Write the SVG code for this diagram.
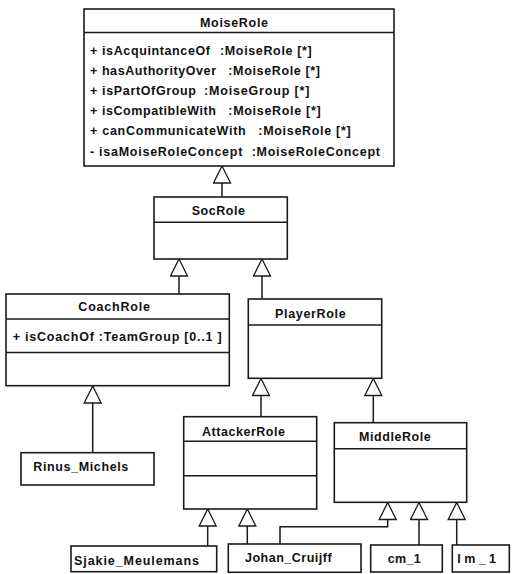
<svg xmlns="http://www.w3.org/2000/svg" width="512" height="574" viewBox="0 0 512 574">
<style>
.box{fill:#fff;stroke:#1a1a1a;stroke-width:1.6}
.sep{stroke:#1a1a1a;stroke-width:1.5}
.t{font-family:"Liberation Sans",Arial,sans-serif;font-weight:bold;font-size:12.5px;fill:#111}
.c{fill:none;stroke:#1a1a1a;stroke-width:1.5}
</style>
<defs>
<marker id="gen" markerUnits="userSpaceOnUse" viewBox="-1 -1 19 19" markerWidth="19" markerHeight="19" refX="17" refY="8.5" orient="auto">
<path d="M0,0 L17,8.5 L0,17 Z" fill="#fff" stroke="#1a1a1a" stroke-width="1.3"/>
</marker>
</defs>
<rect width="512" height="574" fill="#fff"/>
<g id="connectors">
<path class="c" d="M222,197 L222,166" marker-end="url(#gen)"/>
<path class="c" d="M179,294 L179,259" marker-end="url(#gen)"/>
<path class="c" d="M262,299 L262,259" marker-end="url(#gen)"/>
<path class="c" d="M92.7,453 L92.7,386" marker-end="url(#gen)"/>
<path class="c" d="M261,417 L261,378.5" marker-end="url(#gen)"/>
<path class="c" d="M373.3,423 L373.3,378.5" marker-end="url(#gen)"/>
<path class="c" d="M207.7,546 L207.7,509" marker-end="url(#gen)"/>
<path class="c" d="M247.3,544 L247.3,509" marker-end="url(#gen)"/>
<path class="c" d="M280,544 L280,526.7 L387.7,526.7 L387.7,502.5" marker-end="url(#gen)"/>
<path class="c" d="M419,545 L419,502.5" marker-end="url(#gen)"/>
<path class="c" d="M456.7,545 L456.7,502.5" marker-end="url(#gen)"/>
</g>
<g id="MoiseRole">
<rect class="box" x="84" y="9" width="310" height="157"/>
<line class="sep" x1="84" y1="32.5" x2="394" y2="32.5"/>
<text class="t" x="200" y="26.5" textLength="68" lengthAdjust="spacing">MoiseRole</text>
<text class="t" x="90" y="55" textLength="120" lengthAdjust="spacing">+ isAcquintanceOf</text>
<text class="t" x="220" y="55" textLength="91.7" lengthAdjust="spacing">:MoiseRole [*]</text>
<text class="t" x="90" y="75" textLength="126" lengthAdjust="spacing">+ hasAuthorityOver</text>
<text class="t" x="228.3" y="75" textLength="91.7" lengthAdjust="spacing">:MoiseRole [*]</text>
<text class="t" x="90" y="95" textLength="106" lengthAdjust="spacing">+ isPartOfGroup</text>
<text class="t" x="204" y="95" textLength="105.3" lengthAdjust="spacing">:MoiseGroup [*]</text>
<text class="t" x="90" y="115" textLength="126" lengthAdjust="spacing">+ isCompatibleWith</text>
<text class="t" x="228.3" y="115" textLength="92.4" lengthAdjust="spacing">:MoiseRole [*]</text>
<text class="t" x="90" y="135" textLength="155.7" lengthAdjust="spacing">+ canCommunicateWith</text>
<text class="t" x="258.3" y="135" textLength="92.4" lengthAdjust="spacing">:MoiseRole [*]</text>
<text class="t" x="90" y="155.5" textLength="152.3" lengthAdjust="spacing">- isaMoiseRoleConcept</text>
<text class="t" x="251.7" y="155.5" textLength="128.3" lengthAdjust="spacing">:MoiseRoleConcept</text>
</g>
<g id="SocRole">
<rect class="box" x="154" y="197" width="133.3" height="62"/>
<line class="sep" x1="154" y1="222.3" x2="287.3" y2="222.3"/>
<text class="t" x="191.7" y="215" textLength="53.3" lengthAdjust="spacing">SocRole</text>
</g>
<g id="CoachRole">
<rect class="box" x="6" y="294" width="223.3" height="91.7"/>
<line class="sep" x1="6" y1="319" x2="229.3" y2="319"/>
<line class="sep" x1="6" y1="352.5" x2="229.3" y2="352.5"/>
<text class="t" x="78.3" y="311" textLength="71.7" lengthAdjust="spacing">CoachRole</text>
<text class="t" x="12.7" y="340.5" textLength="209" lengthAdjust="spacing">+ isCoachOf :TeamGroup [0..1 ]</text>
</g>
<g id="PlayerRole">
<rect class="box" x="248.3" y="299" width="133.4" height="79.3"/>
<line class="sep" x1="248.3" y1="325" x2="381.7" y2="325"/>
<text class="t" x="275" y="318" textLength="70.7" lengthAdjust="spacing">PlayerRole</text>
</g>
<g id="Rinus_Michels">
<rect class="box" x="21" y="452.7" width="133" height="32.3"/>
<text class="t" x="33.3" y="471" textLength="95" lengthAdjust="spacing">Rinus_Michels</text>
</g>
<g id="AttackerRole">
<rect class="box" x="183.7" y="416.7" width="133" height="92.3"/>
<line class="sep" x1="183.7" y1="441.3" x2="316.7" y2="441.3"/>
<line class="sep" x1="183.7" y1="475.7" x2="316.7" y2="475.7"/>
<text class="t" x="202" y="435.5" textLength="83" lengthAdjust="spacing">AttackerRole</text>
</g>
<g id="MiddleRole">
<rect class="box" x="334.3" y="422.7" width="132.4" height="79.6"/>
<line class="sep" x1="334.3" y1="448.7" x2="466.7" y2="448.7"/>
<text class="t" x="359" y="441" textLength="71.7" lengthAdjust="spacing">MiddleRole</text>
</g>
<g id="Sjakie_Meulemans">
<rect class="box" x="71" y="546" width="145.7" height="25.7"/>
<text class="t" x="74" y="564.5" textLength="125" lengthAdjust="spacing">Sjakie_Meulemans</text>
</g>
<g id="Johan_Cruijff">
<rect class="box" x="228.3" y="544" width="132.7" height="28.3"/>
<text class="t" x="245" y="562" textLength="86.7" lengthAdjust="spacing">Johan_Cruijff</text>
</g>
<g id="cm_1">
<rect class="box" x="370.7" y="545" width="71.6" height="27"/>
<text class="t" x="387.7" y="563.3" textLength="33" lengthAdjust="spacing">cm_1</text>
</g>
<g id="lm_1">
<rect class="box" x="452.3" y="545" width="57" height="27"/>
<text class="t" x="457.3" y="563.3" textLength="38.7" lengthAdjust="spacing">lm_1</text>
</g>
</svg>
